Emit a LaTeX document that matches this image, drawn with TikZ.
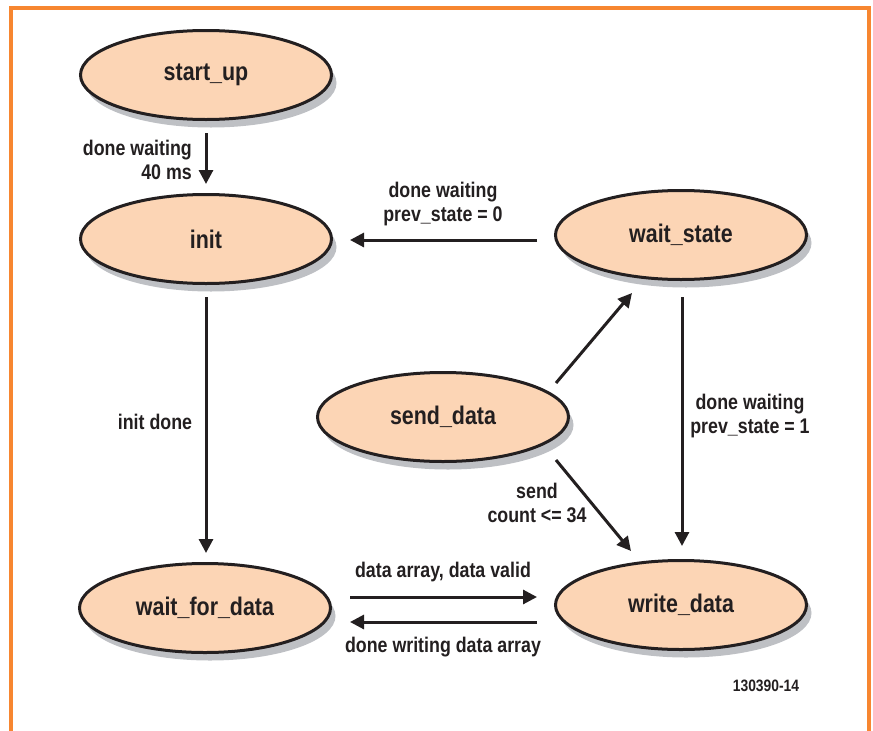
\documentclass[tikz,border=0pt]{standalone}
\usepackage{fontspec}
\setmainfont{Liberation Sans}[FakeStretch=0.84]
\usetikzlibrary{arrows.meta,shapes.geometric,shadows,calc}
\definecolor{peach}{RGB}{252,213,181}
\definecolor{ink}{RGB}{35,31,32}
\definecolor{frame}{RGB}{247,134,48}
\definecolor{shade}{RGB}{190,192,196}
\tikzset{
  state/.style={ellipse, draw=ink, line width=3pt, fill=peach,
    minimum width=251pt, minimum height=89pt, inner sep=0pt,
    font=\bfseries\fontsize{25.5}{30}\selectfont, text=ink,
    drop shadow={shadow xshift=5pt, shadow yshift=-8pt, fill=shade, opacity=1}},
  arr/.style={draw=ink, line width=3pt, -{Triangle[length=14pt,width=14pt]}},
  lbl/.style={font=\bfseries\fontsize{21.2}{24.5}\selectfont, text=ink, inner sep=0pt},
}
\begin{document}
\begin{tikzpicture}[x=1pt,y=-1pt]
\useasboundingbox (0,0) rectangle (873,731);
\draw[frame, line width=3.5pt] (11,731) -- (11,8) -- (869,8) -- (869,731);

\node[state] (su) at (206,75) {start\_up};
\node[state] (init) at (206,239) {init};
\node[state] (ws) at (681,235) {wait\_state};
\node[state] (sd) at (443,417) {send\_data};
\node[state] (wfd) at (205,608) {wait\_for\_data};
\node[state] (wd) at (681,605) {write\_data};

\draw[arr] ($(su)+(0,58)$) -- ($(init)+(0,-55)$);
\draw[arr] ($(ws)+(-144,5)$) -- ($(init)+(144,1)$);
\draw[arr] ($(init)+(0,58)$) -- ($(wfd)+(1,-55)$);
\draw[arr] ($(sd)+(113,-34)$) -- ($(ws)+(-49,58)$);
\draw[arr] ($(sd)+(113,43)$) -- ($(wd)+(-50,-54)$);
\draw[arr] ($(ws)+(1,62)$) -- ($(wd)+(1,-59)$);
\draw[arr] ($(wfd)+(145,-11)$) -- ($(wd)+(-144,-8)$);
\draw[arr] ($(wd)+(-144,17)$) -- ($(wfd)+(145,14)$);

\node[lbl, align=right, anchor=east] (l1) at (192,160) {done waiting\\40 ms};
\node[lbl, align=center] (l2) at (443,204) {done waiting\\prev\_state = 0};
\node[lbl] (l3) at (155,422) {init done};
\node[lbl, align=center] (l4) at (750,416) {done waiting\\prev\_state = 1};
\node[lbl, align=center] (l5) at (537,503) {send\\count <= 34};
\node[lbl] (l6) at (443,572) {data array, data valid};
\node[lbl] (l7) at (443,647) {done writing data array};
\node[font=\bfseries\fontsize{16.5}{19}\selectfont, text=ink, inner sep=0pt] (fig) at (766,686) {130390-14};
\end{tikzpicture}
\end{document}
